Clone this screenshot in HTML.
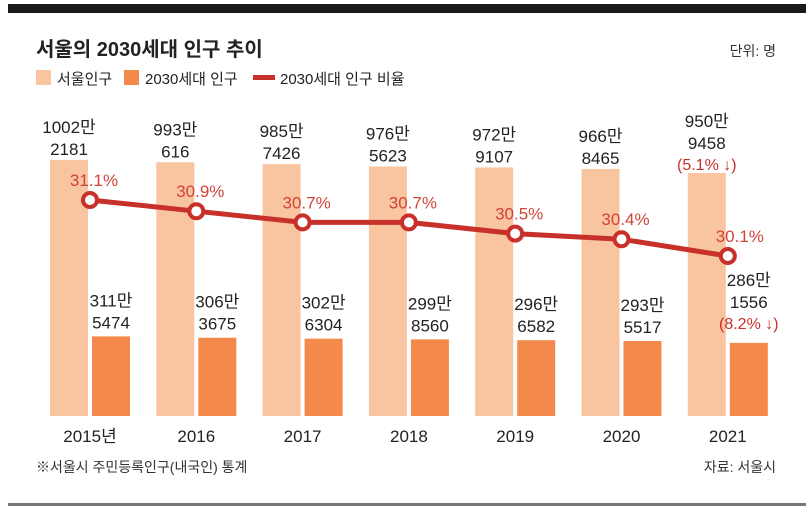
<!DOCTYPE html>
<html><head><meta charset="utf-8"><style>
body{margin:0;background:#fff;font-family:"Liberation Sans","Noto Sans CJK KR",sans-serif;}
svg text{font-family:"Liberation Sans","Noto Sans CJK KR",sans-serif;}
</style></head><body>
<svg id="c" width="812" height="512" xmlns="http://www.w3.org/2000/svg">
<rect x="8" y="4" width="798" height="9" fill="#1a1a1a"/>
<text x="36" y="56" font-size="20" font-weight="bold" fill="#222">서울의 2030세대 인구 추이</text>
<text x="776" y="56" font-size="14" fill="#333" text-anchor="end">단위: 명</text>
<g>
<rect x="36" y="70" width="15" height="15" fill="#f9c4a0"/>
<text x="57" y="84" font-size="15" fill="#222">서울인구</text>
<rect x="124" y="70" width="15" height="15" fill="#f3894a"/>
<text x="145" y="84" font-size="15" fill="#222">2030세대 인구</text>
<rect x="253" y="75" width="22" height="5" fill="#c8302a"/>
<text x="280" y="84" font-size="15" fill="#222">2030세대 인구 비율</text>
</g>
<g id="plot"></g>
<text x="36" y="472" font-size="14" fill="#333">※서울시 주민등록인구(내국인) 통계</text>
<text x="776" y="472" font-size="14" fill="#333" text-anchor="end">자료: 서울시</text>
<rect x="8" y="503" width="798" height="3" fill="#777"/>
</svg>
<script>
const years=["2015년","2016","2017","2018","2019","2020","2021"];
const seoulPop=[10022181,9930616,9857426,9765623,9729107,9668465,9509458];
const youthPop=[3115474,3063675,3026304,2998560,2966582,2935517,2861556];
const ratio=[31.1,30.9,30.7,30.7,30.5,30.4,30.1];
const seoulChange=[null,null,null,null,null,null,"(5.1% ↓)"];
const youthChange=[null,null,null,null,null,null,"(8.2% ↓)"];
const NS="http://www.w3.org/2000/svg";
const g=document.getElementById('plot');
const base=416;
const xc=i=>90+i*106.3;
const yv=v=>base-v/10000*0.2555;
const yr=p=>200+(31.1-p)*56;
function mk(t,a,txt){const e=document.createElementNS(NS,t);for(const k in a)e.setAttribute(k,a[k]);if(txt!=null)e.textContent=txt;g.appendChild(e);return e;}
function fmt(v){return [Math.floor(v/10000)+"만",String(v%10000)];}
years.forEach((y,i)=>{
 const c=xc(i);
 let r=mk('rect',{x:c-40,y:yv(seoulPop[i]),width:38,height:base-yv(seoulPop[i]),fill:'#f9c4a0'});
 
 
 r=mk('rect',{x:c+2,y:yv(youthPop[i]),width:38,height:base-yv(youthPop[i]),fill:'#f3894a'});
 
 
 const sl=fmt(seoulPop[i]);
 const top=yv(seoulPop[i])-(seoulChange[i]?24:5);
 let t=mk('text',{x:c-21,y:top-22,'font-size':17,'text-anchor':'middle',fill:'#222'},sl[0]);
 
 
 t=mk('text',{x:c-21,y:top,'font-size':17,'text-anchor':'middle',fill:'#222'},sl[1]);
 
 
 if(seoulChange[i]){t=mk('text',{x:c-21,y:top+21,'font-size':16,'text-anchor':'middle',fill:'#c8302a'},seoulChange[i]);
 
 }
 const yl=fmt(youthPop[i]);
 const ytop=yv(youthPop[i])-(youthChange[i]?35:8);
 t=mk('text',{x:c+21,y:ytop-22,'font-size':17,'text-anchor':'middle',fill:'#222'},yl[0]);
 
 
 t=mk('text',{x:c+21,y:ytop,'font-size':17,'text-anchor':'middle',fill:'#222'},yl[1]);
 
 
 if(youthChange[i]){t=mk('text',{x:c+21,y:ytop+21,'font-size':16,'text-anchor':'middle',fill:'#c8302a'},youthChange[i]);
 
 }
 t=mk('text',{x:c,y:442,'font-size':17,'text-anchor':'middle',fill:'#222'},y);
 
 
});
const pl=mk('polyline',{points:ratio.map((p,i)=>xc(i)+','+yr(p)).join(' '),fill:'none',stroke:'#c8302a','stroke-width':5});


ratio.forEach((p,i)=>{
 let c=mk('circle',{cx:xc(i),cy:yr(p),r:7,fill:'#fff',stroke:'#c8302a','stroke-width':4});
 
 
 let t=mk('text',{x:xc(i)+(i==6?12:4),y:yr(p)-14,'font-size':17,'text-anchor':'middle',fill:'#d0443a'},p.toFixed(1)+'%');
 
 
});
</script>
</body></html>
